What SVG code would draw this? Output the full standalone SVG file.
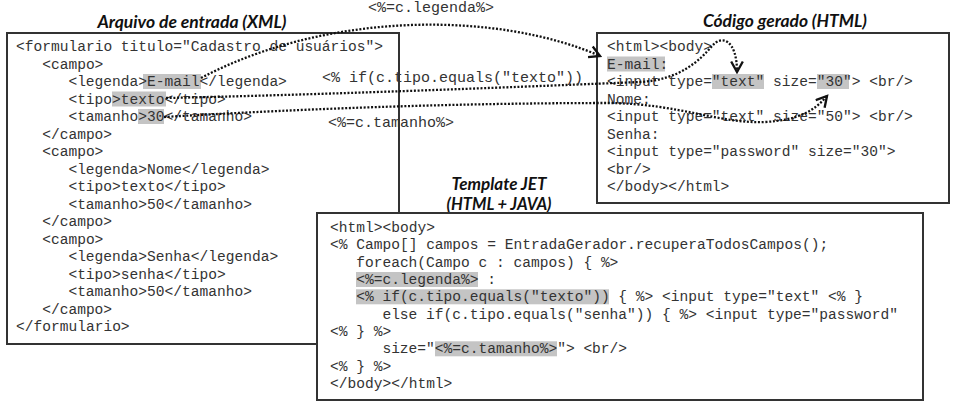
<svg xmlns="http://www.w3.org/2000/svg" width="955" height="404" viewBox="0 0 955 404">
<defs>
<style>
.code{font-family:"Liberation Mono","Courier New",monospace;font-size:14.57px;fill:#333;white-space:pre}
.lbl{font-family:"Liberation Mono","Courier New",monospace;font-size:15px;fill:#333;white-space:pre}
.title{font-family:Lato,"Open Sans",sans-serif;font-weight:bold;font-style:italic;font-size:16.5px;fill:#111;text-anchor:middle}
.box{fill:#fff;stroke:#333;stroke-width:2}
.hl{fill:#c4c4c4}
.dot{fill:none;stroke:#111;stroke-width:2.3;stroke-dasharray:2 1.7}
</style>
<marker id="chev" markerUnits="userSpaceOnUse" markerWidth="14" markerHeight="14" viewBox="0 0 12 12" refX="10" refY="6" orient="auto">
<path d="M1,1 L10,6 L1,11" fill="none" stroke="#111" stroke-width="2"/>
</marker>
</defs>
<rect width="955" height="404" fill="#fff"/>

<g id="xml-input">
<text class="title" x="192" y="28" textLength="189" lengthAdjust="spacingAndGlyphs">Arquivo de entrada (XML)</text>
<rect class="box" x="7" y="33" width="392" height="311"/>
<rect class="hl" x="143" y="74" width="58" height="15"/>
<rect class="hl" x="112" y="91.5" width="54" height="15"/>
<rect class="hl" x="138" y="109" width="26" height="15"/>
<text class="code" x="16" y="51">&lt;formulario titulo="Cadastro de usuários"&gt;</text>
<text class="code" x="42.2" y="68.5">&lt;campo&gt;</text>
<text class="code" x="68.4" y="86">&lt;legenda&gt;E-mail&lt;/legenda&gt;</text>
<text class="code" x="68.4" y="103.5">&lt;tipo&gt;texto&lt;/tipo&gt;</text>
<text class="code" x="68.4" y="121">&lt;tamanho&gt;30&lt;/tamanho&gt;</text>
<text class="code" x="42.2" y="138.5">&lt;/campo&gt;</text>
<text class="code" x="42.2" y="156">&lt;campo&gt;</text>
<text class="code" x="68.4" y="173.5">&lt;legenda&gt;Nome&lt;/legenda&gt;</text>
<text class="code" x="68.4" y="191">&lt;tipo&gt;texto&lt;/tipo&gt;</text>
<text class="code" x="68.4" y="208.5">&lt;tamanho&gt;50&lt;/tamanho&gt;</text>
<text class="code" x="42.2" y="226">&lt;/campo&gt;</text>
<text class="code" x="42.2" y="243.5">&lt;campo&gt;</text>
<text class="code" x="68.4" y="261">&lt;legenda&gt;Senha&lt;/legenda&gt;</text>
<text class="code" x="68.4" y="278.5">&lt;tipo&gt;senha&lt;/tipo&gt;</text>
<text class="code" x="68.4" y="296">&lt;tamanho&gt;50&lt;/tamanho&gt;</text>
<text class="code" x="42.2" y="313.5">&lt;/campo&gt;</text>
<text class="code" x="16" y="331">&lt;/formulario&gt;</text>
</g>

<g id="html-output">
<text class="title" x="785" y="27" textLength="164" lengthAdjust="spacingAndGlyphs">Código gerado (HTML)</text>
<rect class="box" x="597" y="33" width="352" height="170"/>
<rect class="hl" x="607" y="56.5" width="58" height="15"/>
<rect class="hl" x="712" y="74" width="52" height="15"/>
<rect class="hl" x="817" y="74" width="32" height="15"/>
<text class="code" x="607" y="51">&lt;html&gt;&lt;body&gt;</text>
<text class="code" x="607" y="68.5">E-mail:</text>
<text class="code" x="607" y="86">&lt;input type="text" size="30"&gt; &lt;br/&gt;</text>
<text class="code" x="607" y="103.5">Nome:</text>
<text class="code" x="607" y="121">&lt;input type="text" size="50"&gt; &lt;br/&gt;</text>
<text class="code" x="607" y="138.5">Senha:</text>
<text class="code" x="607" y="156">&lt;input type="password" size="30"&gt;</text>
<text class="code" x="607" y="173.5">&lt;br/&gt;</text>
<text class="code" x="607" y="191">&lt;/body&gt;&lt;/html&gt;</text>
</g>

<g id="jet-template">
<text class="title" x="499" y="190" textLength="95" lengthAdjust="spacingAndGlyphs">Template JET</text>
<text class="title" x="499" y="210" textLength="105" lengthAdjust="spacingAndGlyphs">(HTML + JAVA)</text>
<rect class="box" x="317" y="213" width="606" height="187"/>
<rect class="hl" x="356" y="272" width="122" height="15"/>
<rect class="hl" x="356" y="289.3" width="253" height="15"/>
<rect class="hl" x="435" y="341.3" width="122" height="15"/>
<text class="code" x="330" y="232">&lt;html&gt;&lt;body&gt;</text>
<text class="code" x="330" y="249.3">&lt;% Campo[] campos = EntradaGerador.recuperaTodosCampos();</text>
<text class="code" x="356.2" y="266.7">foreach(Campo c : campos) { %&gt;</text>
<text class="code" x="356.2" y="284">&lt;%=c.legenda%&gt; :</text>
<text class="code" x="356.2" y="301.3">&lt;% if(c.tipo.equals("texto")) { %&gt; &lt;input type="text" &lt;% }</text>
<text class="code" x="382.4" y="318.7">else if(c.tipo.equals("senha")) { %&gt; &lt;input type="password"</text>
<text class="code" x="330" y="336">&lt;% } %&gt;</text>
<text class="code" x="382.4" y="353.3">size="&lt;%=c.tamanho%&gt;"&gt; &lt;br/&gt;</text>
<text class="code" x="330" y="370.7">&lt;% } %&gt;</text>
<text class="code" x="330" y="388">&lt;/body&gt;&lt;/html&gt;</text>
</g>

<g id="connectors">
<path class="dot" d="M201,78 C330,10 500,12 600,56" marker-end="url(#chev)"/>
<path class="dot" d="M166,98 C350,94 540,86 640,82 C680,80 700,60 712,46 C722,34 737,40 737,72" marker-end="url(#chev)"/>
<path class="dot" d="M164,117 C350,106 500,103 610,103 C680,104 720,124 765,122 C800,120 815,110 827,96" marker-end="url(#chev)"/>
<text class="lbl" x="368" y="12">&lt;%=c.legenda%&gt;</text>
<text class="lbl" x="322" y="82">&lt;% if(c.tipo.equals("texto"))</text>
<text class="lbl" x="328" y="127">&lt;%=c.tamanho%&gt;</text>
</g>
</svg>
